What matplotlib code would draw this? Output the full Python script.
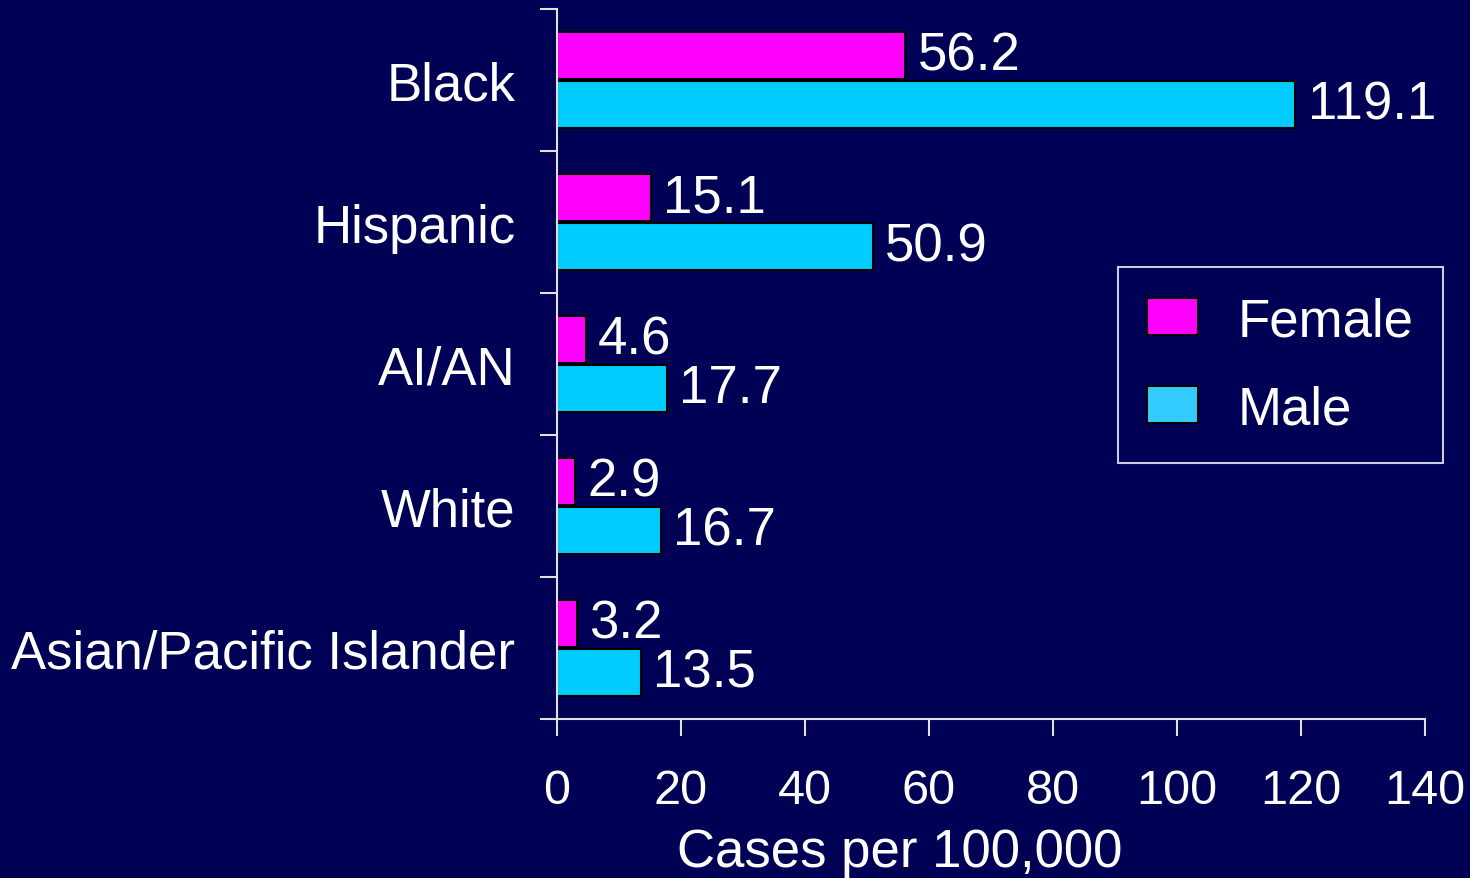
import matplotlib.pyplot as plt
import numpy as np

# data
groups = ["Black", "Hispanic", "AI/AN", "White", "Asian/Pacific Islander"]
female = [56.2, 15.1, 4.6, 2.9, 3.2]
male = [119.1, 50.9, 17.7, 16.7, 13.5]
xticks = [0, 20, 40, 60, 80, 100, 120, 140]

bg = "#000055"
plt.rcParams["font.family"] = ["Liberation Sans", "DejaVu Sans"]

fig = plt.figure(figsize=(14.7, 8.79), dpi=100, facecolor=bg)
ax = fig.add_axes([557 / 1470, 1 - 720 / 879, 868 / 1470, 710 / 879])
ax.set_facecolor(bg)

y = np.arange(len(groups))
h = 0.33
off = 0.17

bf = ax.barh(y - off, female, height=h, color="#FF00FF", edgecolor="black",
             linewidth=1.5, label="Female")
bm = ax.barh(y + off, male, height=h, color="#00CCFF", edgecolor="black",
             linewidth=1.5, label="Male")

for bars, vals in [(bf, female), (bm, male)]:
    for b, v in zip(bars, vals):
        ax.annotate(f"{v}", (b.get_width(), b.get_y() + b.get_height() / 2),
                    xytext=(9, 0), textcoords="offset points",
                    va="center", ha="left", color="white", fontsize=38)

ax.set_xlim(0, 140)
ax.set_ylim(len(groups) - 0.5, -0.5)

ax.set_xticks(xticks)
ax.set_xticklabels([str(t) for t in xticks])
ax.set_yticks(y)
ax.set_yticklabels(groups)
ax.set_yticks(np.arange(len(groups) + 1) - 0.5, minor=True)

ax.tick_params(axis="x", colors="#E0E0E0", length=12, width=1.5,
               labelsize=35, labelcolor="white", pad=23)
ax.tick_params(axis="y", which="major", length=0, labelsize=38,
               labelcolor="white", pad=30)
ax.tick_params(axis="y", which="minor", length=12, width=1.5,
               colors="#E0E0E0")

for s in ["top", "right"]:
    ax.spines[s].set_visible(False)
for s in ["left", "bottom"]:
    ax.spines[s].set_color("#E0E0E0")
    ax.spines[s].set_linewidth(1.5)

ax.set_xlabel("Cases per 100,000", color="white", fontsize=38)
ax.xaxis.set_label_coords((900 - 557) / 868, -0.152)

leg = ax.legend(loc="upper left", bbox_to_anchor=((1118 - 557) / 868, (720 - 268) / 710),
                fontsize=38, frameon=True, fancybox=False, handlelength=0.97,
                handleheight=0.72, handletextpad=0.75, labelspacing=0.72,
                borderpad=0.55, borderaxespad=0)
leg.get_frame().set_facecolor(bg)
leg.get_frame().set_edgecolor("white")
leg.get_frame().set_linewidth(1.5)
for t in leg.get_texts():
    t.set_color("white")
leg.legend_handles[1].set_facecolor("#33CCFF")

fig.savefig("out.png", dpi=100, facecolor=bg)
